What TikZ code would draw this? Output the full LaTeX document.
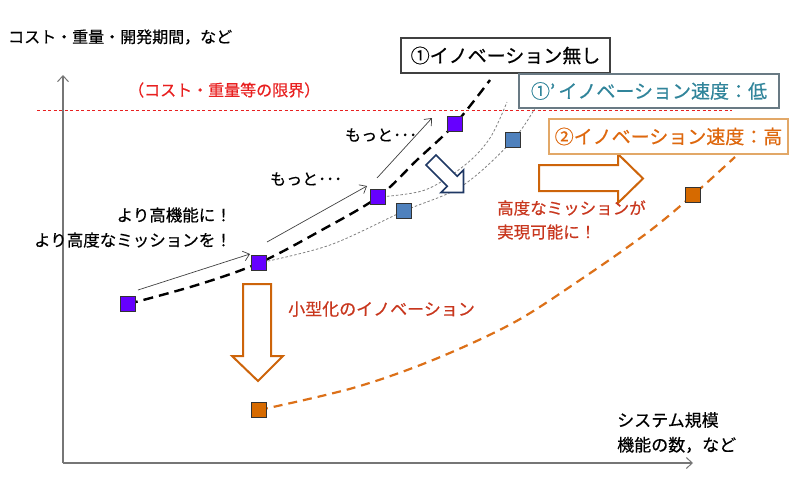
\documentclass[tikz,border=0pt]{standalone}
\usepackage{fontspec}
\setmainfont{Noto Sans CJK JP}[FakeBold=0.5]
\usetikzlibrary{arrows.meta}

\definecolor{purp}{RGB}{102,0,255}
\definecolor{sqblue}{RGB}{79,129,189}
\definecolor{sqorange}{RGB}{214,106,0}
\definecolor{orline}{RGB}{220,112,24}
\definecolor{orarrow}{RGB}{205,100,10}
\definecolor{limitred}{RGB}{232,32,32}
\definecolor{notered}{RGB}{200,55,30}
\definecolor{tealtext}{RGB}{49,133,155}
\definecolor{boxorange}{RGB}{222,104,14}
\definecolor{boxtan}{RGB}{226,168,104}
\definecolor{boxgray}{RGB}{105,122,132}
\definecolor{navyarrow}{RGB}{31,56,100}
\definecolor{axisgray}{RGB}{118,118,118}

\begin{document}
\begin{tikzpicture}[x=1pt,y=-1pt,
  sq/.style={draw=black!80, line width=0.7pt, minimum size=15pt, inner sep=0pt},
  lbl/.style={inner sep=0pt, anchor=west},
  fs/.style={font=\fontsize{#1pt}{#1pt}\selectfont},
  blackdash/.style={line width=2.4pt, dash pattern=on 10pt off 6pt, black},
  orangedash/.style={line width=2.2pt, dash pattern=on 9pt off 6pt, orline},
  graydot/.style={line width=0.8pt, dash pattern=on 2.5pt off 2pt, black!50},
  thinarrow/.style={line width=0.7pt, black!75, -{Straight Barb[length=6pt,width=10pt]}},
  axisline/.style={line width=1.5pt, axisgray, -{Straight Barb[length=6pt,width=11pt,line width=1pt]}},
  hollowarrow/.style={line width=2pt, orarrow, fill=white, line join=miter},
  labelbox/.style={line width=1.1pt, fill=white, inner sep=0pt, font=\fontsize{19pt}{19pt}\selectfont}
]
\useasboundingbox (0,0) rectangle (800,493);

% axes
\coordinate (origin) at (63,463);
\coordinate (ytop) at (63,75);
\coordinate (xend) at (693,463);
\draw[axisline] (origin) -- (ytop);
\draw[axisline] (origin) -- (xend);

% limit line
\coordinate (limL) at (37,110);
\coordinate (limR) at (732,110);
\draw[limitred, line width=0.8pt, dash pattern=on 3pt off 2.5pt] (limL) -- (limR);

% positions of the markers
\coordinate (P1) at (128,304);
\coordinate (P2) at (259,263);
\coordinate (P3) at (378,197);
\coordinate (P4) at (455,124);
\coordinate (B1) at (404,211);
\coordinate (B2) at (513,140);
\coordinate (O1) at (259,410);
\coordinate (O2) at (693,195);

% curves
\draw[graydot] plot[smooth,tension=0.55] coordinates {(P2) (330,245) (B1) (462,186) (B2) (538,103)};
\draw[graydot] plot[smooth,tension=0.55] coordinates {(P3) (425,190) (465,165) (490,138) (507,102)};
\draw[blackdash] plot[smooth,tension=0.55] coordinates {(P1) (197,285) (P2) (320,231) (P3) (417,160) (P4) (490,80)};
\draw[orangedash] plot[smooth,tension=0.55] coordinates {(O1) (353,388) (433,360) (513,323) (580,280) (647,233) (O2) (735,157)};

% markers
\node[sq, fill=purp] (p1) at (P1) {};
\node[sq, fill=purp] (p2) at (P2) {};
\node[sq, fill=purp] (p3) at (P3) {};
\node[sq, fill=purp] (p4) at (P4) {};
\node[sq, fill=sqblue] (b1) at (B1) {};
\node[sq, fill=sqblue] (b2) at (B2) {};
\node[sq, fill=sqorange] (o1) at (O1) {};
\node[sq, fill=sqorange] (o2) at (O2) {};

% thin arrows
\coordinate (a1s) at (138,290); \coordinate (a1e) at (250,254);
\coordinate (a2s) at (267,242); \coordinate (a2e) at (367,186);
\coordinate (a3s) at (377,178); \coordinate (a3e) at (432,118);
\draw[thinarrow] (a1s) -- (a1e);
\draw[thinarrow] (a2s) -- (a2e);
\draw[thinarrow] (a3s) -- (a3e);

% hollow arrows
\draw[hollowarrow] (243,284) -- (271,284) -- (271,356) -- (283,356) -- (258,381) -- (232,356) -- (243,356) -- cycle;
\draw[hollowarrow] (539,165) -- (618,165) -- (618,154) -- (643,178.5) -- (618,203) -- (618,191) -- (539,191) -- cycle;
\begin{scope}[shift={(431,160)}, rotate=-45]
  \draw[line width=1.6pt, navyarrow, fill=white, line join=miter]
    (0,7) -- (30,7) -- (30,16) -- (46,0) -- (30,-16) -- (30,-7) -- (0,-7) -- cycle;
\end{scope}

% texts
\node[lbl, fs=16] (ylab) at (8,37) {コスト・重量・開発期間，など};
\node[lbl, fs=16, text=limitred] (limlab) at (128,90) {（コスト・重量等の限界）};
\node[inner sep=0pt, anchor=east, fs=16.5] (t1) at (232,215) {より高機能に！};
\node[inner sep=0pt, anchor=east, fs=16.5] (t2) at (232,240) {より高度なミッションを！};
\node[lbl, fs=16] (m1) at (270,179) {もっと･･･};
\node[lbl, fs=16] (m2) at (345,135) {もっと･･･};
\node[lbl, fs=17, text=notered] (small) at (288,309) {小型化のイノベーション};
\node[lbl, fs=16.5, text=notered] (adv1) at (497,208) {高度なミッションが};
\node[lbl, fs=16.5, text=notered] (adv2) at (497,232) {実現可能に！};
\node[lbl, fs=17] (x1) at (617,420) {システム規模};
\node[lbl, fs=17] (x2) at (617,445) {機能の数，など};

% boxes
\node[labelbox, draw=black!75, minimum width=209pt, minimum height=35pt] (box1) at (505.5,55.5) {①イノベーション無し};
\node[labelbox, draw=boxgray, text=tealtext, minimum width=260pt, minimum height=34pt] (box2) at (649,91) {①'\,イノベーション速度：低};
\node[labelbox, draw=boxtan, text=boxorange, minimum width=239pt, minimum height=35pt] (box3) at (668.5,136.5) {②イノベーション速度：高};
\end{tikzpicture}
\end{document}
